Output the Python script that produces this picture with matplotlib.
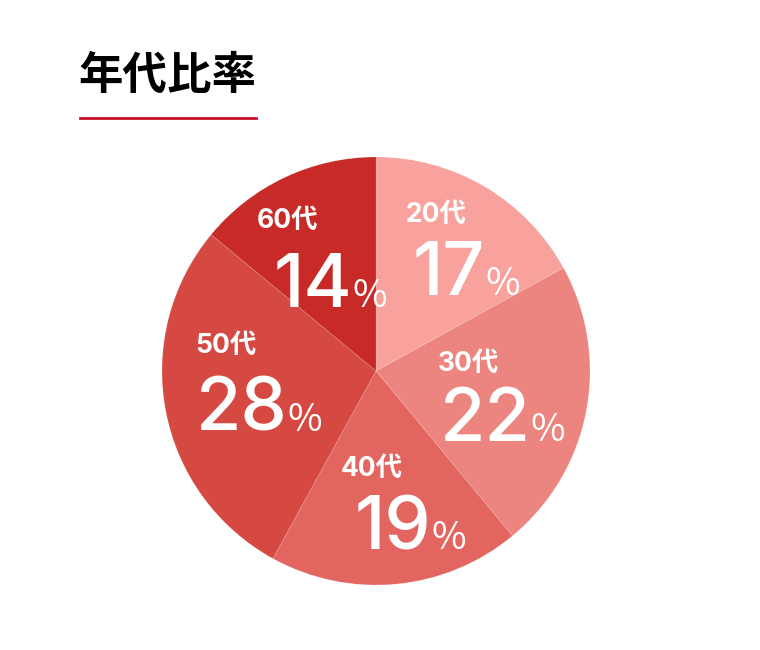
import matplotlib
matplotlib.use("Agg")
from matplotlib import pyplot as plt

# data
ages = ["20代", "30代", "40代", "50代", "60代"]
shares = [17, 22, 19, 28, 14]
colours = ["#F8A19D", "#EC8580", "#E2655F", "#D64943", "#C82A27"]

# text anchors in pie units (radius = 1): left edge / baseline
num_pos = [(0.173, 0.355), (0.299, -0.327), (-0.098, -0.832),
           (-0.841, -0.280), (-0.477, 0.299)]
age_pos = [(0.140, 0.696), (0.290, 0.0), (-0.164, -0.491),
           (-0.846, 0.084), (-0.556, 0.668)]

plt.rcParams['font.family'] = ['Noto Sans CJK JP', 'DejaVu Sans']

fig = plt.figure(figsize=(7.6, 6.5), dpi=100)
fig.patch.set_facecolor("white")

# title and red underline
fig.text(78 / 760, 1 - 76 / 650, "年代比率", fontsize=32, fontweight="bold",
         color="black", ha="left", va="center")
fig.add_artist(plt.Line2D([80 / 760, 256 / 760], [1 - 118 / 650, 1 - 118 / 650],
                          color="#C8102E", linewidth=2))

# pie: centre (376, 371) px, radius 214 px
ax = fig.add_axes([162 / 760, 65 / 650, 428 / 760, 428 / 650])
ax.pie(shares, colors=colours, startangle=90, counterclock=False, radius=1,
       wedgeprops=dict(edgecolor=(1, 1, 1, 0.15), linewidth=0.6))
ax.set_xlim(-1, 1)
ax.set_ylim(-1, 1)
ax.set_aspect("equal")
ax.axis("off")

for age, share, (nx, ny), (lx, ly) in zip(ages, shares, num_pos, age_pos):
    num = ax.text(nx, ny, str(share), fontsize=53, fontweight="medium", color="white",
                  ha="left", va="baseline", family=["Inter"])
    ax.annotate("%", xy=(1, ny), xycoords=(num, "data"), xytext=(0, 0),
                textcoords="offset points", fontsize=27, color="white",
                ha="left", va="baseline", family=["Noto Sans CJK JP"])
    ax.text(lx, ly, age, fontsize=19, fontweight="bold", color="white",
            ha="left", va="baseline", family=["Inter", "Noto Sans CJK JP"])

fig.savefig("out.png", dpi=100, facecolor="white")
